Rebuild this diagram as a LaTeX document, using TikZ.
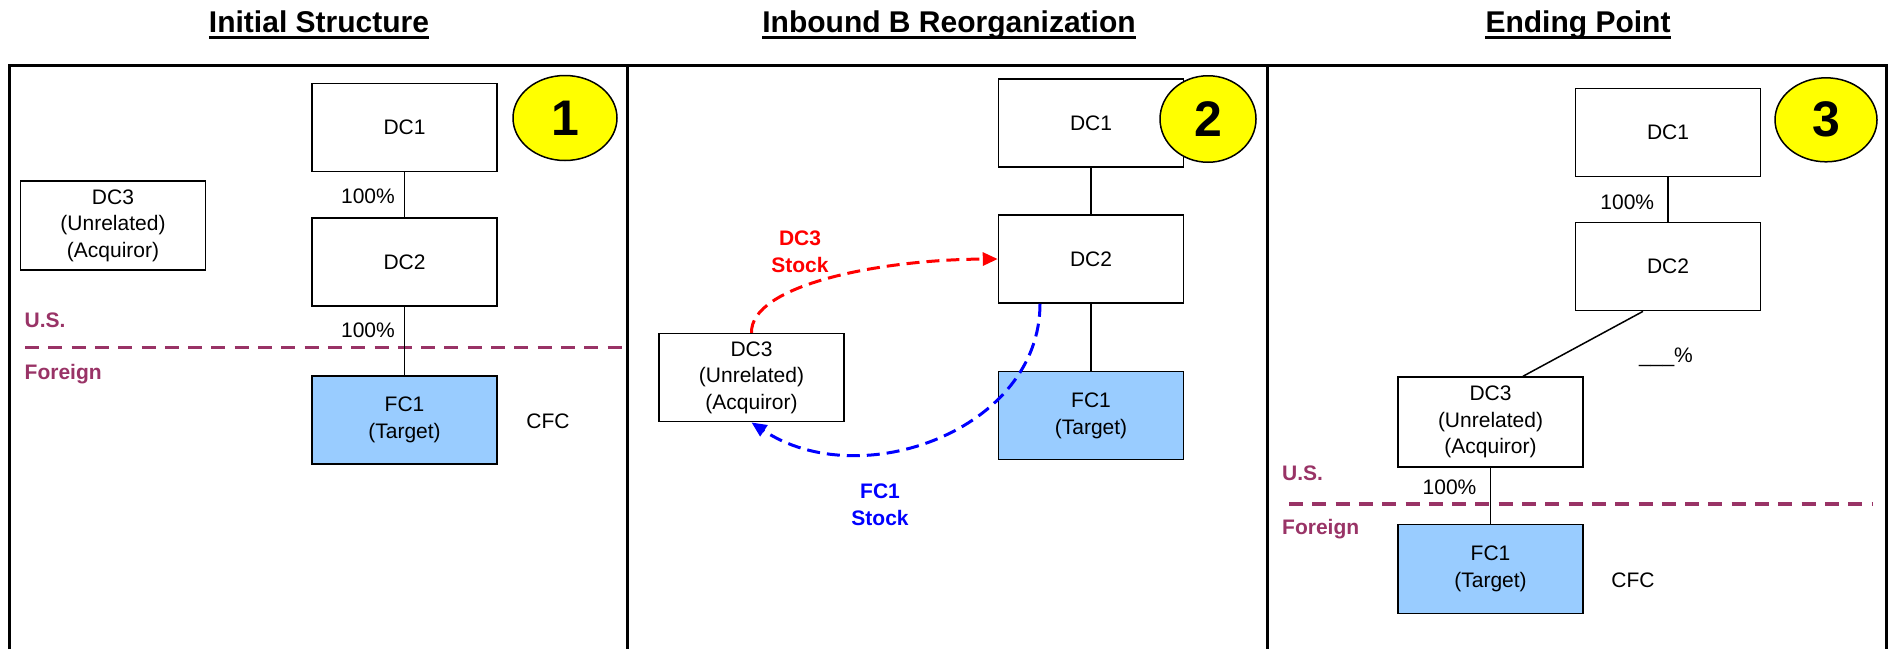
\documentclass[tikz,border=0pt]{standalone}
\usepackage{fontspec}
\setmainfont{Liberation Sans}
\usetikzlibrary{shapes.geometric,arrows.meta}
\definecolor{plum}{HTML}{993366}
\definecolor{fcblue}{HTML}{99CCFF}
\definecolor{numyellow}{HTML}{FFFF00}
\begin{document}
\begin{tikzpicture}[x=1pt,y=-1pt,
  ent/.style={draw=black,line width=1.5pt,fill=white,minimum width=185pt,minimum height=88pt,inner sep=0pt,align=center,font=\fontsize{21}{26.5}\selectfont},
  cfcbox/.style={ent,fill=fcblue},
  num/.style={ellipse,draw=black,line width=1.5pt,fill=numyellow,inner sep=0pt,font=\fontsize{50}{60}\selectfont\bfseries},
  ptitle/.style={inner sep=0pt,anchor=base,font=\fontsize{30}{36}\selectfont\bfseries},
  uline/.style={line width=3pt},
  lbl/.style={inner sep=0pt,font=\fontsize{21}{26.5}\selectfont},
  flowlbl/.style={inner sep=0pt,align=center,font=\fontsize{21}{26.5}\selectfont\bfseries},
  zone/.style={inner sep=0pt,anchor=base west,text=plum,font=\fontsize{21}{26.5}\selectfont\bfseries},
  own/.style={line width=1.5pt},
  frameline/.style={line width=3pt},
  divide/.style={draw=plum,line width=3.3pt,dash pattern=on 14pt off 9.3pt},
  flow/.style={line width=3pt,dash pattern=on 13pt off 7pt},
  tip/.style={-{Triangle[length=15pt,width=13pt]}},
]
\useasboundingbox (0,0) rectangle (1889,649);

% frame
\draw[frameline] (9,649) -- (9,65) -- (1886,65) -- (1886,649);
\draw[frameline] (627.5,65) -- (627.5,649);
\draw[frameline] (1267,65) -- (1267,649);

% titles
\node[ptitle] (t1) at (319,32.3) {Initial Structure};
\draw[uline] ([yshift=-5pt]t1.base west) -- ([yshift=-5pt]t1.base east);
\node[ptitle] (t2) at (949,32.3) {Inbound B Reorganization};
\draw[uline] ([yshift=-5pt]t2.base west) -- ([yshift=-5pt]t2.base east);
\node[ptitle] (t3) at (1578,32.3) {Ending Point};
\draw[uline] ([yshift=-5pt]t3.base west) -- ([yshift=-5pt]t3.base east);

% ---------- panel 1 ----------
\coordinate (d1l) at (25,347.7);
\coordinate (d1r) at (622,347.7);
\draw[divide] (d1l) -- (d1r);
\node[ent] (a1) at (404.5,127.7) {DC1};
\node[ent] (a2) at (404.5,262) {DC2};
\node[cfcbox] (a4) at (404.5,420) {FC1\\(Target)};
\node[ent,minimum height=89pt] (a3) at (113,225.6) {DC3\\(Unrelated)\\(Acquiror)};
\node[num,minimum width=104pt,minimum height=85pt] (n1) at (565,118) {1};
\draw[own] (a1) -- (a2);
\draw[own] (a2) -- (a4);
\node[zone] (us1) at (24.5,327) {U.S.};
\node[zone] (fo1) at (24.5,379.5) {Foreign};
\node[lbl,anchor=base east] (p11) at (395,203.6) {100\%};
\node[lbl,anchor=base east] (p12) at (395,337.3) {100\%};
\node[lbl,anchor=base] (cf1) at (548,428.4) {CFC};

% ---------- panel 2 ----------
\node[ent] (b1) at (1091,123) {DC1};
\node[ent] (b2) at (1091,259) {DC2};
\node[cfcbox] (b4) at (1091,415.6) {FC1\\(Target)};
\node[ent] (b3) at (751.5,377.7) {DC3\\(Unrelated)\\(Acquiror)};
\node[num,minimum width=96pt,minimum height=86.5pt] (n2) at (1208,119) {2};
\draw[own] (b1) -- (b2);
\draw[own] (b2) -- (b4);
\draw[flow,red,tip] (b3.north) .. controls (750,285) and (880,259.5) .. (b2.west);
\draw[flow,blue,tip] ([xshift=-51pt]b2.south) .. controls (1040,430) and (860,495) .. (b3.south);
\node[flowlbl,text=red] (s1) at (800,252) {DC3\\Stock};
\node[flowlbl,text=blue] (s2) at (880,505) {FC1\\Stock};

% ---------- panel 3 ----------
\coordinate (d3l) at (1289,504.1);
\coordinate (d3r) at (1872,504.1);
\draw[divide] (d3l) -- (d3r);
\node[ent] (c1) at (1668,132.5) {DC1};
\node[ent] (c2) at (1668,266.6) {DC2};
\node[ent,minimum height=90pt] (c3) at (1490.5,422) {DC3\\(Unrelated)\\(Acquiror)};
\node[cfcbox,minimum height=89pt] (c4) at (1490.5,569) {FC1\\(Target)};
\node[num,minimum width=102pt,minimum height=84pt] (n3) at (1826,119.8) {3};
\draw[own] (c1) -- (c2);
\draw[own] ([xshift=-25pt]c2.south) -- ([xshift=32.5pt]c3.north);
\draw[own] (c3) -- (c4);
\node[zone] (us3) at (1282,480) {U.S.};
\node[zone] (fo3) at (1282,534) {Foreign};
\node[lbl,anchor=base east] (p31) at (1654.3,209.8) {100\%};
\node[lbl,anchor=base east] (p32) at (1476.6,494.6) {100\%};
\node[lbl,anchor=base] (p33) at (1666,362) {\_\_\_\%};
\node[lbl,anchor=base] (cf3) at (1633,587) {CFC};
\end{tikzpicture}
\end{document}
